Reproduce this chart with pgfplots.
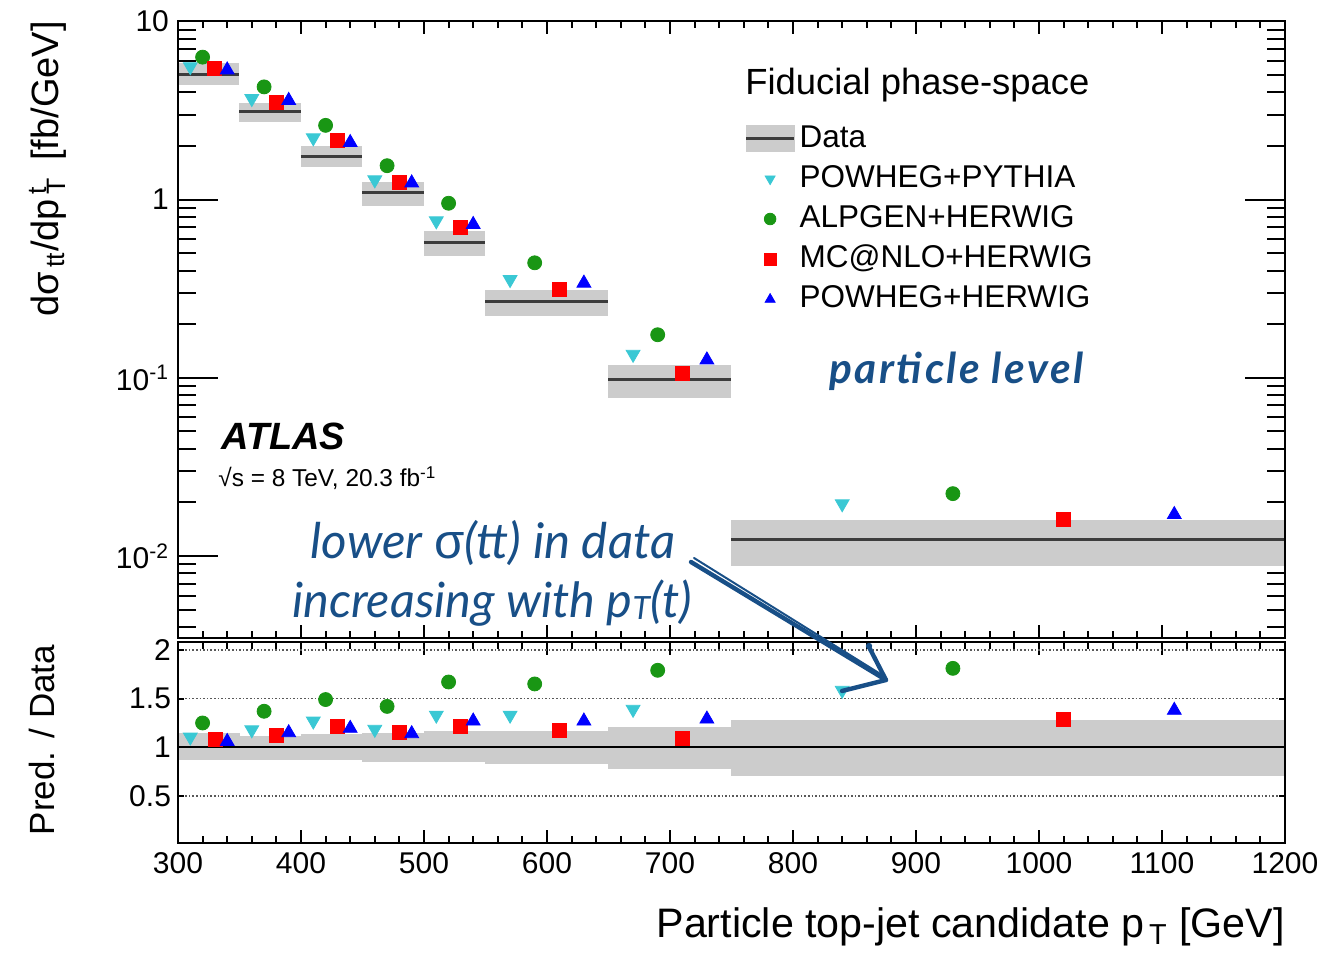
\documentclass[border=0pt]{standalone}
\usepackage{pgfplots}
\usepackage{pgfplotstable}
\pgfplotsset{compat=1.18}
\usepackage{fontspec}
\setmainfont{Liberation Sans}
\newfontfamily\annotfont{Lato}
\newfontfamily\annotwide[LetterSpace=6]{Lato}

\definecolor{bandgray}{RGB}{204,204,204}
\definecolor{datagray}{RGB}{60,60,60}
\definecolor{ppcyan}{RGB}{58,200,212}
\definecolor{ahgreen}{RGB}{25,150,20}
\definecolor{mcred}{RGB}{255,0,0}
\definecolor{phblue}{RGB}{0,0,255}
\definecolor{annot}{RGB}{24,79,135}

% predictions: x position, cross-section [fb/GeV], ratio to data
\pgfplotstableread{
x     xs       ratio
310   5.57     1.106
360   3.69     1.18
410   2.22     1.27
460   1.29     1.185
510   0.760    1.33
570   0.356    1.33
670   0.1355   1.39
840   0.01965  1.585
}\powpyt
\pgfplotstableread{
x     xs       ratio
320   6.30     1.25
370   4.29     1.37
420   2.61     1.49
470   1.55     1.42
520   0.954    1.67
590   0.442    1.65
690   0.1745   1.79
930   0.0224   1.81
}\alpher
\pgfplotstableread{
x     xs       ratio
330   5.44     1.08
380   3.51     1.12
430   2.135    1.22
480   1.25     1.15
530   0.697    1.22
610   0.314    1.17
710   0.106    1.09
1020  0.0160   1.29
}\mcnlo
\pgfplotstableread{
x     xs       ratio
340   5.34     1.06
390   3.60     1.15
440   2.09     1.195
490   1.24     1.14
540   0.725    1.27
630   0.340    1.27
730   0.126    1.29
1110  0.0171   1.38
}\powher

\pgfplotsset{
  frame/.style={
    scale only axis, width=553.5pt,
    xmin=300, xmax=1200,
    tick align=inside,
    axis line style={line width=1pt},
    every tick/.style={black, line width=1pt},
    /pgf/number format/assume math mode=true,
  },
  cyanmark/.style={only marks, mark=triangle*, mark size=4pt,
    mark options={rotate=180, fill=ppcyan, draw=ppcyan}},
  greenmark/.style={only marks, mark=*, mark size=3.5pt,
    mark options={fill=ahgreen, draw=ahgreen}},
  redmark/.style={only marks, mark=square*, mark size=3.5pt,
    mark options={fill=mcred, draw=mcred}},
  bluemark/.style={only marks, mark=triangle*, mark size=4pt,
    mark options={fill=phblue, draw=phblue}},
  markleg/.style={legend image code/.code={
    \path[draw=none, fill=none] (0pt,0pt) -- (24pt,0pt);
    \draw[##1, mark size=2.9pt] plot coordinates {(12pt,0pt)};}},
}

\begin{document}
\begin{tikzpicture}
\useasboundingbox (0,0) rectangle (661.5pt,478.5pt);

% ---------- upper panel: cross-section ----------
\begin{axis}[frame,
  at={(89pt,159.5pt)}, anchor=south west, height=308.5pt,
  ymode=log, ymin=0.00347, ymax=10.05,
  xtick=\empty,
  ytick={0.01,0.1,1,10},
  yticklabels={10\textsuperscript{-2},10\textsuperscript{-1},1,10},
  minor ytick={0.004,0.005,0.006,0.007,0.008,0.009,
               0.02,0.03,0.04,0.05,0.06,0.07,0.08,0.09,
               0.2,0.3,0.4,0.5,0.6,0.7,0.8,0.9,
               2,3,4,5,6,7,8,9},
  ytick pos=both,
  major tick length=20pt, minor tick length=9pt,
  yticklabel style={font=\fontsize{15pt}{18pt}\selectfont, xshift=-1pt},
  ylabel={dσ\textsubscript{\,tt}/dp\rlap{\textsuperscript{\,t}}\textsubscript{\,T}\hspace{3pt} [fb/GeV]},
  ylabel style={font=\fontsize{19pt}{22pt}\selectfont, inner sep=0pt,
    at={(axis description cs:-0.1174,1.0)}, anchor=east},
  unbounded coords=jump,
  legend style={at={(axis description cs:0.5115,0.8335)}, anchor=north west,
    draw=none, fill=none, inner sep=0pt, row sep=5.6pt,
    font=\fontsize{15.75pt}{18pt}\selectfont,
    nodes={inner ysep=0pt, text height=11.5pt, text depth=3pt}},
  legend cell align=left,
]
% data uncertainty bands
\addplot[fill=bandgray, draw=none, forget plot] coordinates {(300,4.37) (350,4.37) (350,5.81) (300,5.81)} -- cycle;
\addplot[fill=bandgray, draw=none, forget plot] coordinates {(350,2.72) (400,2.72) (400,3.49) (350,3.49)} -- cycle;
\addplot[fill=bandgray, draw=none, forget plot] coordinates {(400,1.52) (450,1.52) (450,1.99) (400,1.99)} -- cycle;
\addplot[fill=bandgray, draw=none, forget plot] coordinates {(450,0.925) (500,0.925) (500,1.25) (450,1.25)} -- cycle;
\addplot[fill=bandgray, draw=none, forget plot] coordinates {(500,0.485) (550,0.485) (550,0.664) (500,0.664)} -- cycle;
\addplot[fill=bandgray, draw=none, forget plot] coordinates {(550,0.223) (650,0.223) (650,0.312) (550,0.312)} -- cycle;
\addplot[fill=bandgray, draw=none, forget plot] coordinates {(650,0.0769) (750,0.0769) (750,0.118) (650,0.118)} -- cycle;
\addplot[fill=bandgray, draw=none, forget plot] coordinates {(750,0.00879) (1200,0.00879) (1200,0.0159) (750,0.0159)} -- cycle;
% measured values
\addplot[datagray, line width=1.5pt, forget plot] coordinates {
  (300,5.04) (350,5.04) (350,nan)
  (350,3.13) (400,3.13) (400,nan)
  (400,1.75) (450,1.75) (450,nan)
  (450,1.09) (500,1.09) (500,nan)
  (500,0.571) (550,0.571) (550,nan)
  (550,0.268) (650,0.268) (650,nan)
  (650,0.0975) (750,0.0975) (750,nan)
  (750,0.0124) (1200,0.0124)};
\addlegendimage{legend image code/.code={
  \fill[bandgray] (0pt,-6.5pt) rectangle (24pt,6.5pt);
  \draw[datagray, line width=1.5pt] (0pt,0pt) -- (24pt,0pt);}}
\addlegendentry{Data}
\addplot[cyanmark, markleg] table[x=x, y=xs] {\powpyt};
\addlegendentry{POWHEG+PYTHIA}
\addplot[greenmark, markleg] table[x=x, y=xs] {\alpher};
\addlegendentry{ALPGEN+HERWIG}
\addplot[redmark, markleg] table[x=x, y=xs] {\mcnlo};
\addlegendentry{MC@NLO+HERWIG}
\addplot[bluemark, markleg] table[x=x, y=xs] {\powher};
\addlegendentry{POWHEG+HERWIG}
\end{axis}

% x ticks of the upper panel
\begin{axis}[frame,
  at={(89pt,159.5pt)}, anchor=south west, height=308.5pt,
  ymin=0, ymax=1, ytick=\empty,
  xtick={300,400,...,1200}, minor x tick num=4, xticklabels={},
  xtick pos=both, major tick length=6.5pt, minor tick length=3.5pt,
]
\end{axis}

% ---------- lower panel: ratio ----------
\begin{axis}[frame,
  at={(89pt,57pt)}, anchor=south west, height=100.5pt,
  ymin=0.02, ymax=2.08,
  xtick={300,400,...,1200}, minor x tick num=4,
  xticklabels={300,400,500,600,700,800,900,1000,1100,1200},
  xtick pos=both, major tick length=6.5pt, minor tick length=3.5pt,
  xticklabel style={font=\fontsize{15pt}{18pt}\selectfont, yshift=-1pt},
  ytick=\empty,
  xlabel={Particle top-jet candidate p\textsubscript{\,T} [GeV]},
  xlabel style={font=\fontsize{20.6pt}{24pt}\selectfont, inner sep=0pt,
    at={(axis description cs:1,-0.4726)}, anchor=base east},
  ylabel={Pred. / Data},
  ylabel style={font=\fontsize{17.5pt}{21pt}\selectfont,
    at={(axis description cs:-0.1229,0.5124)}, anchor=center},
]
\addplot[fill=bandgray, draw=none] coordinates {(300,0.87) (350,0.87) (350,1.15) (300,1.15)} -- cycle;
\addplot[fill=bandgray, draw=none] coordinates {(350,0.87) (400,0.87) (400,1.115) (350,1.115)} -- cycle;
\addplot[fill=bandgray, draw=none] coordinates {(400,0.87) (450,0.87) (450,1.137) (400,1.137)} -- cycle;
\addplot[fill=bandgray, draw=none] coordinates {(450,0.85) (500,0.85) (500,1.147) (450,1.147)} -- cycle;
\addplot[fill=bandgray, draw=none] coordinates {(500,0.85) (550,0.85) (550,1.163) (500,1.163)} -- cycle;
\addplot[fill=bandgray, draw=none] coordinates {(550,0.832) (650,0.832) (650,1.164) (550,1.164)} -- cycle;
\addplot[fill=bandgray, draw=none] coordinates {(650,0.78) (750,0.78) (750,1.21) (650,1.21)} -- cycle;
\addplot[fill=bandgray, draw=none] coordinates {(750,0.71) (1200,0.71) (1200,1.28) (750,1.28)} -- cycle;
% reference lines
\draw[densely dotted, black!65, line width=0.8pt] (axis cs:300,0.5) -- (axis cs:1200,0.5);
\draw[densely dotted, black!65, line width=0.8pt] (axis cs:300,1.5) -- (axis cs:1200,1.5);
\draw[densely dotted, black!65, line width=0.8pt] (axis cs:300,2) -- (axis cs:1200,2);
\draw[black, line width=1pt] (axis cs:300,1) -- (axis cs:1200,1);
\addplot[cyanmark] table[x=x, y=ratio] {\powpyt};
\addplot[greenmark] table[x=x, y=ratio] {\alpher};
\addplot[redmark] table[x=x, y=ratio] {\mcnlo};
\addplot[bluemark] table[x=x, y=ratio] {\powher};
\end{axis}

% y ticks of the lower panel
\begin{axis}[frame,
  at={(89pt,57pt)}, anchor=south west, height=100.5pt,
  ymin=0.02, ymax=2.08, xtick=\empty,
  ytick={0.5,1,1.5,2}, yticklabels={0.5,1,1.5,2},
  ytick pos=both, major tick length=3pt,
  yticklabel style={font=\fontsize{15pt}{18pt}\selectfont},
]
\end{axis}

% labels
\node[anchor=base west, inner sep=0pt, font=\fontsize{18.2pt}{21pt}\selectfont]
  at (372.5pt,431.3pt) {Fiducial phase-space};
\node[anchor=base west, inner sep=0pt, font=\fontsize{19pt}{22pt}\selectfont\bfseries\itshape]
  at (110.5pt,253.5pt) {ATLAS};
\node[anchor=base west, inner sep=0pt, font=\fontsize{12.2pt}{14pt}\selectfont]
  at (109pt,235pt) {√s = 8 TeV, 20.3 fb\textsuperscript{-1}};
\node[anchor=base west, inner sep=0pt, text=annot,
  font=\annotwide\fontsize{21.2pt}{24pt}\selectfont\bfseries\itshape]
  at (414.5pt,286.5pt) {particle level};
\node[anchor=base, inner sep=0pt, text=annot,
  font=\annotfont\fontsize{24.6pt}{28pt}\selectfont\itshape]
  at (246.5pt,199pt) {lower {\normalfont σ}(tt) in data};
\node[anchor=base, inner sep=0pt, text=annot,
  font=\annotfont\fontsize{24.3pt}{28pt}\selectfont\itshape]
  at (246pt,169.5pt) {increasing with p\raisebox{-1pt}{\fontsize{16pt}{16pt}\selectfont T}(t)};

% hand-drawn arrow
\draw[annot, line width=2.2pt, line cap=round, line join=round]
  (345.5pt,197.5pt) -- (443pt,138.5pt);
\draw[annot, line width=1pt, line cap=round]
  (347pt,199.5pt) -- (441pt,141pt);
\draw[annot, line width=2.2pt, line cap=round, line join=round]
  (434.5pt,155pt) -- (443pt,138.5pt) -- (421pt,133pt);
\fill[annot] (434.5pt,155.5pt) circle (1.6pt);
\end{tikzpicture}
\end{document}
